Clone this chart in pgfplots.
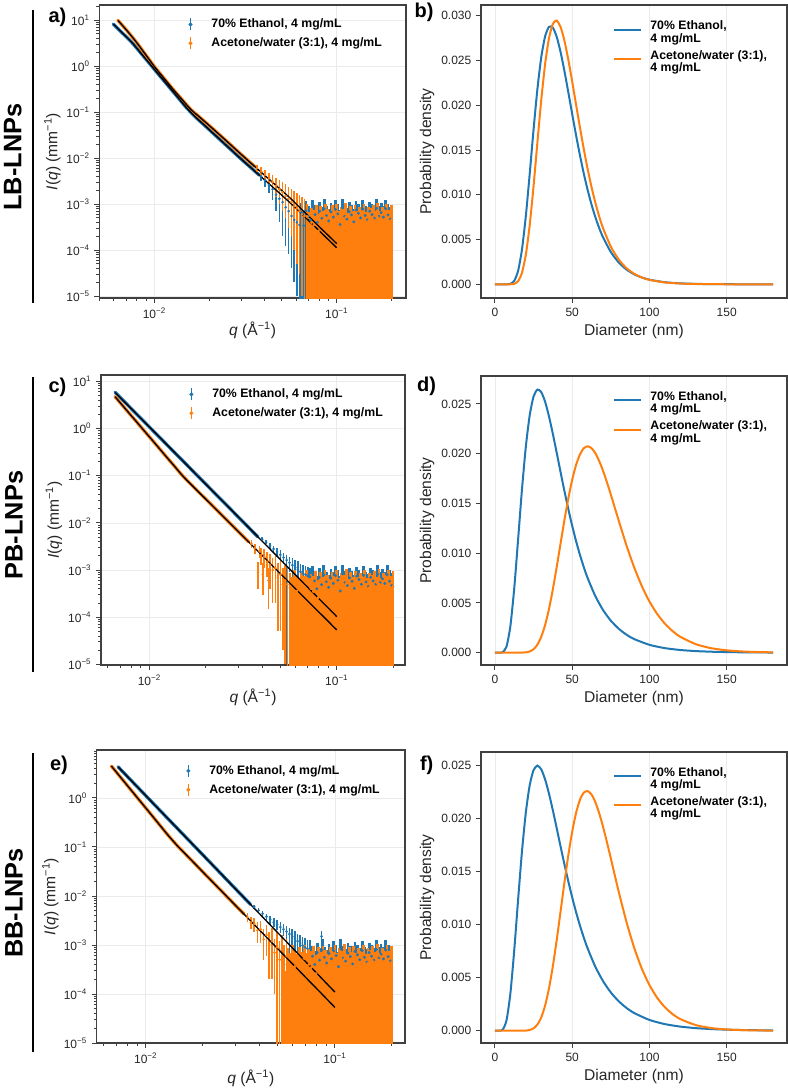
\documentclass[border=0pt]{standalone}
\usepackage{pgfplots}
\pgfplotsset{compat=1.18}
\usepackage{pgfplotstable}
\usepackage{fontspec}
\setmainfont{Liberation Sans}
\definecolor{tabblue}{HTML}{1F77B4}
\definecolor{taborange}{HTML}{FF7F0E}
\newcommand{\tpw}[1]{10\textsuperscript{#1}}

% ---------- SAXS fit/data paths ----------
\pgfplotstableread[row sep=\\]{
q I\\ 0.005957 8.13\\ 0.006683 5.19\\ 0.007499 3.31\\ 0.008414 1.93\\ 0.009441 1.117\\ 0.01059 0.646\\ 0.01189 0.374\\ 0.01334 0.217\\ 0.01496 0.126\\ 0.01679 0.0783\\ 0.01884 0.0515\\ 0.02113 0.0338\\ 0.02371 0.0222\\ 0.02661 0.01459\\ 0.02985 0.00959\\ 0.03350 0.0064\\ 0.03758 0.00426\\ 0.04217 0.00284\\ 0.04732 0.00189\\ 0.05309 0.001256\\ 0.05957 0.000822\\ 0.06683 0.000528\\ 0.07499 0.000339\\ 0.08414 0.000218\\ 0.09441 0.00014\\ 0.1 0.000112\\
}\BAa
\pgfplotstableread[row sep=\\]{
q I\\ 0.00631 9.84\\ 0.007079 5.86\\ 0.007943 3.35\\ 0.008913 1.81\\ 0.01 0.975\\ 0.01122 0.558\\ 0.01259 0.320\\ 0.01413 0.190\\ 0.01585 0.1135\\ 0.01778 0.0764\\ 0.01995 0.0513\\ 0.02239 0.0341\\ 0.02512 0.0226\\ 0.02818 0.0149\\ 0.03162 0.00986\\ 0.03548 0.00656\\ 0.03981 0.00438\\ 0.04467 0.00291\\ 0.05012 0.00194\\ 0.05623 0.00129\\ 0.0631 0.00082\\ 0.07079 0.000527\\ 0.07943 0.000334\\ 0.08913 0.000215\\ 0.1 0.000138\\
}\OAa
\pgfplotstableread[row sep=\\]{
q I\\ 0.006561 5.85\\ 0.006761 5.19\\ 0.007586 3.27\\ 0.008511 2.06\\ 0.00955 1.294\\ 0.01072 0.815\\ 0.01202 0.513\\ 0.01349 0.323\\ 0.01514 0.203\\ 0.01698 0.128\\ 0.01905 0.0805\\ 0.02138 0.0507\\ 0.02399 0.0319\\ 0.02692 0.0201\\ 0.0302 0.01265\\ 0.03388 0.00796\\ 0.03802 0.00501\\ 0.04266 0.00316\\ 0.04786 0.00199\\ 0.0537 0.00125\\ 0.06026 0.000787\\ 0.06761 0.000495\\ 0.07586 0.000312\\ 0.08511 0.000196\\ 0.0955 0.000124\\ 0.1 0.000103\\
}\BAc
\pgfplotstableread[row sep=\\]{
q I\\ 0.006561 4.72\\ 0.006761 4.11\\ 0.007586 2.40\\ 0.008511 1.41\\ 0.00955 0.824\\ 0.01072 0.483\\ 0.01202 0.282\\ 0.01349 0.1655\\ 0.01514 0.0968\\ 0.01698 0.061\\ 0.01905 0.0386\\ 0.02138 0.0245\\ 0.02399 0.01549\\ 0.02692 0.00982\\ 0.0302 0.00621\\ 0.03388 0.00394\\ 0.03802 0.00249\\ 0.04266 0.00158\\ 0.04786 0.000998\\ 0.0537 0.000632\\ 0.06026 0.0004\\ 0.06761 0.000254\\ 0.07586 0.00016\\ 0.08511 0.000102\\ 0.0955 0.0000644\\ 0.1 0.0000537\\
}\OAc
\pgfplotstableread[row sep=\\]{
q I\\ 0.007145 4.32\\ 0.008017 2.72\\ 0.008995 1.714\\ 0.01009 1.080\\ 0.01132 0.681\\ 0.0127 0.429\\ 0.01426 0.270\\ 0.016 0.1704\\ 0.01795 0.1074\\ 0.02014 0.0677\\ 0.0226 0.0427\\ 0.02535 0.0269\\ 0.02844 0.01694\\ 0.03192 0.01068\\ 0.03581 0.00673\\ 0.04018 0.00424\\ 0.04508 0.00267\\ 0.05058 0.001684\\ 0.05675 0.001062\\ 0.06368 0.000669\\ 0.07145 0.000422\\ 0.08017 0.000266\\ 0.08995 0.000167\\ 0.1 0.0001096\\
}\BAe
\pgfplotstableread[row sep=\\]{
q I\\ 0.006592 4.47\\ 0.007396 2.597\\ 0.008299 1.510\\ 0.009311 0.878\\ 0.01045 0.511\\ 0.01172 0.297\\ 0.01315 0.1726\\ 0.01476 0.1042\\ 0.01656 0.0661\\ 0.01858 0.0419\\ 0.02084 0.0265\\ 0.02339 0.01683\\ 0.02624 0.01067\\ 0.02944 0.00676\\ 0.03304 0.00429\\ 0.03707 0.00272\\ 0.04159 0.00172\\ 0.04667 0.00109\\ 0.05236 0.000692\\ 0.05875 0.000439\\ 0.06592 0.000278\\ 0.07396 0.000176\\ 0.08299 0.000112\\ 0.09311 0.0000708\\ 0.1 0.0000533\\
}\OAe

% ---------- transition region data with error bars ----------
\pgfplotstableread[row sep=\\]{
q I ep em\\ 0.0385 0.0040 0.0010 0.0009\\ 0.0405 0.0033 0.0010 0.0009\\ 0.0425 0.0026 0.0010 0.0009\\ 0.0445 0.0021 0.0010 0.0009\\ 0.0465 0.0016 0.0010 0.0009\\ 0.0485 0.0013 0.0010 0.0009\\ 0.0505 0.0011 0.0010 0.0009\\ 0.0525 0.00085 0.00095 0.00073\\ 0.0545 0.0007 0.0009 0.00062\\ 0.0565 0.00055 0.00085 0.00051\\ 0.0585 0.00045 0.00075 0.00043\\ 0.0605 0.0004 0.0007 0.00039\\ 0.0625 0.00035 0.00065 0.000344\\
}\BTa
\pgfplotstableread[row sep=\\]{
q I ep em\\ 0.0365 0.0060 0.0012 0.0010\\ 0.0385 0.0051 0.0012 0.0010\\ 0.0405 0.0043 0.0012 0.0011\\ 0.0425 0.0036 0.0012 0.0011\\ 0.0445 0.0030 0.0012 0.0011\\ 0.0465 0.0025 0.0012 0.0011\\ 0.0485 0.0021 0.0012 0.0011\\ 0.0505 0.0018 0.0012 0.0011\\ 0.0525 0.0015 0.0012 0.0010\\ 0.0545 0.0013 0.0011 0.0010\\ 0.0565 0.0011 0.0010 0.0009\\ 0.0585 0.0009 0.0010 0.0008\\ 0.0605 0.0008 0.0009 0.00075\\ 0.0625 0.0007 0.0009 0.00067\\ 0.0645 0.0006 0.0008 0.00059\\ 0.0665 0.00055 0.00075 0.000545\\
}\OTa
\pgfplotstableread[row sep=\\]{
q I ep em\\ 0.040 0.00449 0.0005 0.0004\\ 0.042 0.0039 0.0005 0.0004\\ 0.044 0.0033 0.0005 0.0005\\ 0.046 0.0028 0.0005 0.0005\\ 0.048 0.00243 0.0005 0.0005\\ 0.050 0.0021 0.0005 0.0005\\ 0.052 0.00184 0.0005 0.0005\\ 0.054 0.00162 0.0005 0.00161\\ 0.056 0.00143 0.0005 0.0005\\ 0.058 0.00127 0.0005 0.00126\\ 0.060 0.00113 0.0005 0.0005\\ 0.062 0.00102 0.0005 0.0004\\ 0.064 0.00092 0.0004 0.0004\\ 0.066 0.00085 0.0004 0.0004\\ 0.068 0.0008 0.0004 0.0004\\ 0.070 0.00075 0.0004 0.0004\\ 0.072 0.00072 0.0004 0.0004\\
}\BTc
\pgfplotstableread[row sep=\\]{
q I ep em\\ 0.0350 0.0036 0.0007 0.0006\\ 0.0365 0.0029 0.0007 0.0007\\ 0.0380 0.0009 0.0006 0.0005\\ 0.0388 0.0025 0.0008 0.0007\\ 0.0395 0.0021 0.0008 0.0008\\ 0.0403 0.0008 0.0006 0.0005\\ 0.0410 0.0019 0.0009 0.0008\\ 0.0425 0.0015 0.0009 0.0008\\ 0.0432 0.0006 0.0005 0.00045\\ 0.0440 0.0013 0.0009 0.0009\\ 0.0455 0.0010 0.0008 0.0008\\ 0.0470 0.0011 0.0009 0.0009\\ 0.0485 0.0007 0.0007 0.00065\\ 0.0500 0.0008 0.0008 0.00075\\ 0.0515 0.0005 0.0006 0.00048\\ 0.0530 0.0006 0.0007 0.00059\\ 0.0545 0.0005 0.0006 0.000497\\
}\OTc
\pgfplotstableread[row sep=\\]{
q I ep em\\ 0.0375 0.0060 0.0005 0.0005\\ 0.0395 0.0051 0.0005 0.0005\\ 0.0415 0.00437 0.0005 0.0005\\ 0.0435 0.0038 0.0005 0.0005\\ 0.0455 0.0033 0.0006 0.0006\\ 0.0475 0.0029 0.0006 0.0006\\ 0.0495 0.0026 0.0006 0.0006\\ 0.0515 0.00232 0.0006 0.0006\\ 0.0535 0.00209 0.0006 0.0006\\ 0.0555 0.00188 0.0006 0.0006\\ 0.0575 0.00167 0.0006 0.00166\\ 0.0595 0.0015 0.0006 0.0006\\ 0.0615 0.00134 0.0006 0.0006\\ 0.0635 0.0012 0.0005 0.0005\\ 0.0655 0.0011 0.0005 0.00109\\ 0.0675 0.00098 0.0005 0.0005\\ 0.0695 0.0009 0.0005 0.0004\\ 0.0715 0.00085 0.0004 0.0004\\ 0.0850 0.0015 0.0004 0.0003\\ 0.0862 0.0010 0.0003 0.0003\\
}\BTe
\pgfplotstableread[row sep=\\]{
q I ep em\\ 0.0345 0.0037 0.0008 0.0007\\ 0.0360 0.0029 0.0008 0.0008\\ 0.0375 0.0027 0.0009 0.0009\\ 0.0390 0.0020 0.0009 0.0009\\ 0.0405 0.0021 0.0010 0.0010\\ 0.0420 0.0013 0.0008 0.0008\\ 0.0435 0.0016 0.0010 0.0010\\ 0.0450 0.0010 0.0008 0.0008\\ 0.0465 0.0012 0.0010 0.0010\\ 0.0480 0.0007 0.0006 0.0006\\ 0.0495 0.0009 0.0009 0.000895\\ 0.0510 0.0005 0.0007 0.000497\\ 0.0525 0.0008 0.0008 0.000797\\ 0.0533 0.00015 0.0002 0.000148\\ 0.0540 0.0004 0.0006 0.000397\\ 0.0548 0.00009 0.0002 0.000088\\ 0.0555 0.0006 0.0007 0.000597\\
}\OTe

% ---------- high-q plateau (noisy) ----------
\pgfplotstableread[row sep=\\]{
q I ep em\\
0.05705 5.8e-4 4.3e-4 5.77e-4\\ 0.05872 3.8e-4 4.0e-4 3.77e-4\\ 0.06043 8.1e-4 3.6e-4 8.07e-4\\ 0.0622 5.0e-4 3.5e-4 4.97e-4\\
0.06402 6.5e-4 3.9e-4 6.47e-4\\ 0.06588 3.4e-4 3.8e-4 3.37e-4\\ 0.0678 7.2e-4 4.2e-4 7.17e-4\\ 0.06979 5.4e-4 3.7e-4 5.37e-4\\
0.07182 4.5e-4 3.6e-4 4.47e-4\\ 0.07392 8.6e-4 3.8e-4 8.57e-4\\ 0.07608 5.9e-4 3.7e-4 5.87e-4\\ 0.0783 4.0e-4 3.5e-4 3.97e-4\\
0.08058 7.0e-4 3.8e-4 6.97e-4\\ 0.08294 4.9e-4 3.7e-4 4.87e-4\\ 0.08536 7.9e-4 4.8e-4 7.87e-4\\ 0.08786 5.6e-4 3.6e-4 5.57e-4\\
0.09042 4.3e-4 3.5e-4 4.27e-4\\ 0.09306 6.7e-4 3.8e-4 6.67e-4\\ 0.09578 5.2e-4 3.8e-4 5.17e-4\\ 0.09857 7.6e-4 4.4e-4 7.57e-4\\
0.10145 6.1e-4 3.8e-4 6.07e-4\\ 0.10441 3.6e-4 3.7e-4 3.57e-4\\ 0.10747 8.3e-4 4.7e-4 8.27e-4\\ 0.1106 5.4e-4 4.0e-4 5.37e-4\\
0.11383 4.7e-4 3.6e-4 4.67e-4\\ 0.11715 6.8e-4 4.1e-4 6.77e-4\\ 0.12057 5.8e-4 3.7e-4 5.77e-4\\ 0.12409 4.1e-4 3.8e-4 4.07e-4\\
0.12772 7.4e-4 4.3e-4 7.37e-4\\ 0.13145 6.3e-4 3.8e-4 6.27e-4\\ 0.13528 5.0e-4 3.8e-4 4.97e-4\\ 0.13924 7.7e-4 4.5e-4 7.67e-4\\
0.1433 5.6e-4 3.5e-4 5.57e-4\\ 0.14749 4.5e-4 3.7e-4 4.47e-4\\ 0.15179 7.0e-4 4.2e-4 6.97e-4\\ 0.15622 5.9e-4 3.9e-4 5.87e-4\\
0.16079 4.9e-4 3.8e-4 4.87e-4\\ 0.16548 8.1e-4 4.5e-4 8.07e-4\\ 0.17031 5.4e-4 3.8e-4 5.37e-4\\ 0.17529 6.5e-4 4.2e-4 6.47e-4\\
0.1804 5.2e-4 3.9e-4 5.17e-4\\ 0.18567 7.9e-4 4.6e-4 7.87e-4\\ 0.19109 5.8e-4 4.2e-4 5.77e-4\\ 0.19668 4.7e-4 3.9e-4 4.67e-4\\
}\BP
\pgfplotstableread[row sep=\\]{
q I ep em\\
0.05623 4.2e-4 4.3e-4 4.17e-4\\ 0.05788 3.1e-4 3.9e-4 3.07e-4\\ 0.05957 5.0e-4 4.8e-4 4.97e-4\\ 0.06131 3.6e-4 4.0e-4 3.57e-4\\
0.0631 2.7e-4 3.7e-4 2.67e-4\\ 0.06494 4.6e-4 4.6e-4 4.57e-4\\ 0.06683 3.3e-4 4.0e-4 3.27e-4\\ 0.06879 5.3e-4 4.9e-4 5.27e-4\\
0.07079 2.9e-4 3.9e-4 2.87e-4\\ 0.07286 4.0e-4 4.4e-4 3.97e-4\\ 0.07499 3.5e-4 4.0e-4 3.47e-4\\ 0.07718 4.8e-4 4.8e-4 4.77e-4\\
0.07943 2.6e-4 3.6e-4 2.57e-4\\ 0.08175 4.3e-4 4.6e-4 4.27e-4\\ 0.08414 3.2e-4 3.9e-4 3.17e-4\\ 0.0866 5.1e-4 4.9e-4 5.07e-4\\
0.08913 3.7e-4 4.1e-4 3.67e-4\\ 0.09173 2.8e-4 3.8e-4 2.77e-4\\ 0.09441 4.5e-4 4.8e-4 4.47e-4\\ 0.09716 3.4e-4 4.0e-4 3.37e-4\\
0.1 4.9e-4 5.0e-4 4.87e-4\\ 0.10292 3.0e-4 3.9e-4 2.97e-4\\ 0.10593 4.1e-4 4.5e-4 4.07e-4\\ 0.10902 3.6e-4 4.1e-4 3.57e-4\\
0.1122 5.2e-4 5.2e-4 5.17e-4\\ 0.11548 2.7e-4 3.8e-4 2.67e-4\\ 0.11885 4.4e-4 4.6e-4 4.37e-4\\ 0.12232 3.3e-4 3.9e-4 3.27e-4\\
0.12589 4.7e-4 4.8e-4 4.67e-4\\ 0.12957 3.1e-4 3.9e-4 3.07e-4\\ 0.13335 4.0e-4 4.5e-4 3.97e-4\\ 0.13725 3.5e-4 4.1e-4 3.47e-4\\
0.14125 5.0e-4 5.1e-4 4.97e-4\\ 0.14538 2.9e-4 3.8e-4 2.87e-4\\ 0.14962 4.3e-4 4.5e-4 4.27e-4\\ 0.15399 3.8e-4 4.2e-4 3.77e-4\\
0.15849 4.6e-4 4.8e-4 4.57e-4\\ 0.16312 3.2e-4 3.9e-4 3.17e-4\\ 0.16788 5.1e-4 5.2e-4 5.07e-4\\ 0.17278 3.0e-4 3.9e-4 2.97e-4\\
0.17783 4.2e-4 4.5e-4 4.17e-4\\ 0.18302 3.6e-4 4.3e-4 3.57e-4\\ 0.18836 4.8e-4 5.0e-4 4.77e-4\\ 0.19387 3.4e-4 4.1e-4 3.37e-4\\
0.19953 4.5e-4 5.1e-4 4.47e-4\\
}\OP

% ---------- size distributions ----------
\pgfplotstableread[row sep=\\]{
x y\\ 0 0\\ 5 0\\ 7.5 0.000002\\ 10 0.0000514\\ 12.5 0.000385\\ 15 0.0015\\ 17.5 0.003873\\ 20 0.007608\\ 22.5 0.0123\\ 25 0.01727\\ 27.5 0.02181\\ 30 0.02538\\ 32.5 0.02771\\ 35 0.02876\\ 37.5 0.02867\\ 40 0.02764\\ 42.5 0.02594\\ 45 0.02381\\ 47.5 0.02145\\ 50 0.01903\\ 52.5 0.01666\\ 55 0.01443\\ 57.5 0.01238\\ 60 0.01054\\ 62.5 0.00892\\ 65 0.0075\\ 67.5 0.00628\\ 70 0.00524\\ 75 0.00361\\ 80 0.002464\\ 85 0.001671\\ 90 0.00113\\ 95 0.000763\\ 100 0.000515\\ 110 0.000234\\ 120 0.000108\\ 130 0.00005\\ 140 0.00002\\ 150 0.00001\\ 165 0.000002\\ 180 0\\
}\Db
\pgfplotstableread[row sep=\\]{
x y\\ 0 0\\ 10 0.000004\\ 12.5 0.000056\\ 15 0.000349\\ 17.5 0.00128\\ 20 0.00329\\ 22.5 0.006585\\ 25 0.01095\\ 27.5 0.01585\\ 30 0.0206\\ 32.5 0.02462\\ 35 0.0275\\ 37.5 0.0291\\ 40 0.02946\\ 42.5 0.02874\\ 45 0.0272\\ 47.5 0.02509\\ 50 0.02266\\ 52.5 0.02009\\ 55 0.01755\\ 57.5 0.01512\\ 60 0.01289\\ 62.5 0.01088\\ 65 0.00911\\ 67.5 0.00757\\ 70 0.00626\\ 75 0.00421\\ 80 0.00279\\ 85 0.001828\\ 90 0.001189\\ 95 0.000769\\ 100 0.000496\\ 110 0.000206\\ 120 0.0000853\\ 130 0.0000357\\ 140 0.000015\\ 150 0.000006\\ 180 0\\
}\Ob
\pgfplotstableread[row sep=\\]{
x y\\ 0 0\\ 2.5 0\\ 5 0.000042\\ 7.5 0.00061\\ 10 0.002652\\ 12.5 0.00645\\ 15 0.01136\\ 17.5 0.01638\\ 20 0.02069\\ 22.5 0.02384\\ 25 0.02573\\ 27.5 0.02644\\ 30 0.02618\\ 32.5 0.02521\\ 35 0.02374\\ 37.5 0.02198\\ 40 0.02007\\ 42.5 0.01813\\ 45 0.01623\\ 47.5 0.01443\\ 50 0.01275\\ 52.5 0.01122\\ 55 0.00984\\ 57.5 0.0086\\ 60 0.0075\\ 65 0.005675\\ 70 0.004277\\ 75 0.003217\\ 80 0.00242\\ 85 0.00182\\ 90 0.001373\\ 100 0.000786\\ 110 0.000455\\ 120 0.000267\\ 130 0.000159\\ 140 0.0000958\\ 150 0.0000586\\ 160 0.0000362\\ 170 0.0000227\\ 180 0.0000144\\
}\Dd
\pgfplotstableread[row sep=\\]{
x y\\ 0 0\\ 15 0\\ 20 0.000033\\ 22.5 0.000122\\ 25 0.000346\\ 27.5 0.000805\\ 30 0.001595\\ 32.5 0.002787\\ 35 0.004395\\ 37.5 0.006376\\ 40 0.008624\\ 42.5 0.01099\\ 45 0.01333\\ 47.5 0.0155\\ 50 0.01737\\ 52.5 0.01886\\ 55 0.01991\\ 57.5 0.02054\\ 60 0.02074\\ 62.5 0.02055\\ 65 0.02004\\ 67.5 0.01925\\ 70 0.01826\\ 72.5 0.01712\\ 75 0.01589\\ 77.5 0.01461\\ 80 0.01333\\ 85 0.01084\\ 90 0.00862\\ 95 0.00671\\ 100 0.00514\\ 105 0.00389\\ 110 0.002913\\ 115 0.002163\\ 120 0.001593\\ 130 0.000851\\ 140 0.000448\\ 150 0.000234\\ 160 0.000122\\ 170 0.0000633\\ 180 0.000033\\
}\Od
\pgfplotstableread[row sep=\\]{
x y\\ 0 0\\ 2.5 0\\ 5 0.0000936\\ 7.5 0.000973\\ 10 0.003493\\ 12.5 0.00756\\ 15 0.01233\\ 17.5 0.01687\\ 20 0.02055\\ 22.5 0.02312\\ 25 0.02455\\ 27.5 0.02498\\ 30 0.02462\\ 32.5 0.02367\\ 35 0.02234\\ 37.5 0.02076\\ 40 0.01907\\ 42.5 0.01735\\ 45 0.01567\\ 47.5 0.01407\\ 50 0.01257\\ 52.5 0.01118\\ 55 0.00992\\ 57.5 0.00878\\ 60 0.007754\\ 65 0.006022\\ 70 0.004665\\ 75 0.003607\\ 80 0.00279\\ 85 0.00216\\ 90 0.001675\\ 100 0.001014\\ 110 0.000621\\ 120 0.000385\\ 130 0.000242\\ 140 0.000154\\ 150 0.0000988\\ 160 0.0000643\\ 170 0.0000424\\ 180 0.0000282\\
}\Df
\pgfplotstableread[row sep=\\]{
x y\\ 0 0\\ 17.5 0\\ 20 0.000015\\ 22.5 0.000067\\ 25 0.000221\\ 27.5 0.000578\\ 30 0.00126\\ 32.5 0.002378\\ 35 0.003991\\ 37.5 0.006085\\ 40 0.00856\\ 42.5 0.01125\\ 45 0.01398\\ 47.5 0.01653\\ 50 0.01875\\ 52.5 0.02051\\ 55 0.02175\\ 57.5 0.02243\\ 60 0.02258\\ 62.5 0.02226\\ 65 0.02153\\ 67.5 0.02048\\ 70 0.0192\\ 72.5 0.01776\\ 75 0.01624\\ 77.5 0.01469\\ 80 0.01317\\ 85 0.01032\\ 90 0.00787\\ 95 0.00587\\ 100 0.0043\\ 105 0.0031\\ 110 0.00221\\ 115 0.00156\\ 120 0.001092\\ 130 0.000526\\ 140 0.000249\\ 150 0.000117\\ 160 0.0000547\\ 170 0.0000255\\ 180 0.0000118\\
}\Of

\pgfplotsset{
  every axis/.append style={
    scale only axis,
    axis line style={black!75, line width=0.9pt},
    tick align=outside, xtick pos=lower, ytick pos=left,
    major tick length=3.75pt, minor tick length=2.2pt,
    tick style={black!75, line width=0.7pt},
    tick label style={font=\fontsize{9}{10}\selectfont, text=black!85},
    label style={font=\fontsize{11.7}{13}\selectfont, text=black!85},
    legend cell align=left,
    scaled y ticks=false, scaled x ticks=false,
  },
  databand/.style={line width=2.5pt, line cap=round, smooth, forget plot},
  fitline/.style={black, line width=1pt, smooth, forget plot},
  ebar/.style={only marks, mark=*, mark size=0.8pt, forget plot,
    error bars/y dir=both, error bars/y explicit, error bars/error mark=none,
    error bars/error bar style={line width=1.2pt}},
  pbar/.style={only marks, mark=*, mark size=0.9pt, forget plot,
    error bars/y dir=both, error bars/y explicit, error bars/error mark=none,
    error bars/error bar style={line width=2.1pt}},
  psdline/.style={line width=1.5pt, smooth, tension=0.4, forget plot},
}
\newcommand{\twol}[2]{\def\arraystretch{0.92}\begin{tabular}{@{}l@{}}#1\\#2\end{tabular}}

\begin{document}
\begin{tikzpicture}
\useasboundingbox (0,0) rectangle (591pt,-817.5pt);

% ================= a =================
\begin{axis}[xmode=log, ymode=log, at={(74.5pt,-223.5pt)}, anchor=south west, width=230pt, height=219.75pt,
  xmin=0.00499, xmax=0.24, ymin=9.06e-6, ymax=21.2,
  xtick={0.01,0.1}, xticklabels={\tpw{−2},\tpw{−1}},
  minor xtick={0.005,0.006,0.007,0.008,0.009,0.02,0.03,0.04,0.05,0.06,0.07,0.08,0.09,0.2},
  ytick={1e-5,1e-4,1e-3,1e-2,1e-1,1,10},
  yticklabels={\tpw{−5},\tpw{−4},\tpw{−3},\tpw{−2},\tpw{−1},\tpw{0},\tpw{1}},
  minor ytick={2e-5,3e-5,4e-5,5e-5,6e-5,7e-5,8e-5,9e-5,2e-4,3e-4,4e-4,5e-4,6e-4,7e-4,8e-4,9e-4,2e-3,3e-3,4e-3,5e-3,6e-3,7e-3,8e-3,9e-3,0.02,0.03,0.04,0.05,0.06,0.07,0.08,0.09,0.2,0.3,0.4,0.5,0.6,0.7,0.8,0.9,2,3,4,5,6,7,8,9,20},
  grid=major, major grid style={black!8, line width=0.5pt},
  xlabel={\textit{q} (Å\textsuperscript{−1})},
  ylabel={\textit{I}(\textit{q}) (mm\textsuperscript{−1})},
  xlabel style={at={(axis description cs:0.5,-0.11)}, anchor=center},
  ylabel style={at={(axis description cs:-0.153,0.5)}, anchor=center},
  legend style={draw=none, fill=none, inner sep=0pt, at={(0.29,0.96)}, anchor=north west,
    font=\bfseries\fontsize{9.2}{10}\selectfont, row sep=3pt, nodes={inner sep=1.5pt}}]
\addplot[skip coords between index={17}{40}, tabblue, databand] table[x=q,y=I] {\BAa};
\addplot[tabblue, ebar] table[x=q,y=I,y error plus=ep,y error minus=em] {\BTa};
\addplot[skip coords between index={0}{4}, tabblue, pbar] table[x=q,y=I,y error plus=ep,y error minus=em] {\BP};
\addplot[skip coords between index={16}{40}, taborange, databand] table[x=q,y=I] {\OAa};
\addplot[taborange, ebar] table[x=q,y=I,y error plus=ep,y error minus=em] {\OTa};
\addplot[skip coords between index={0}{7}, taborange, pbar] table[x=q,y=I,y error plus=ep,y error minus=em] {\OP};
\addplot[fitline] table[x=q,y=I] {\BAa};
\addplot[fitline] table[x=q,y=I] {\OAa};
\addlegendimage{legend image code/.code={\draw[tabblue, line width=0.9pt] (0pt,-4.5pt) -- (0pt,4.5pt); \fill[tabblue] (0pt,0pt) circle (1.3pt); \path (14pt,0pt);}}
\addlegendentry{70\% Ethanol, 4 mg/mL}
\addlegendimage{legend image code/.code={\draw[taborange, line width=0.9pt] (0pt,-4.5pt) -- (0pt,4.5pt); \fill[taborange] (0pt,0pt) circle (1.3pt); \path (14pt,0pt);}}
\addlegendentry{Acetone/water (3:1), 4 mg/mL}
\end{axis}

% ================= b =================
\begin{axis}[at={(360.75pt,-223.5pt)}, anchor=south west, width=229.5pt, height=219.75pt,
  xmin=-9, xmax=189, ymin=-0.00153, ymax=0.0312,
  xtick={0,50,100,150}, xticklabels={0,50,100,150},
  ytick={0,0.005,0.01,0.015,0.02,0.025,0.03}, yticklabels={0.000,0.005,0.010,0.015,0.020,0.025,0.030},
  xmajorgrids, major grid style={black!8, line width=0.5pt},
  xlabel={Diameter (nm)}, ylabel={Probability density},
  xlabel style={at={(axis description cs:0.5,-0.115)}, anchor=center},
  ylabel style={at={(axis description cs:-0.176,0.5)}, anchor=center},
  legend style={draw=none, fill=none, inner sep=0pt, at={(0.431,0.953)}, anchor=north west,
    font=\bfseries\fontsize{9.2}{9}\selectfont, row sep=6pt, nodes={inner sep=1.5pt}}]
\addplot[tabblue, psdline] table[x=x,y=y] {\Db};
\addplot[taborange, psdline] table[x=x,y=y] {\Ob};
\addlegendimage{legend image code/.code={\draw[tabblue, line width=1.5pt] (0pt,0pt) -- (20pt,0pt); \path (25.5pt,0pt);}}
\addlegendentry{\twol{70\% Ethanol,}{4 mg/mL}}
\addlegendimage{legend image code/.code={\draw[taborange, line width=1.5pt] (0pt,0pt) -- (20pt,0pt); \path (25.5pt,0pt);}}
\addlegendentry{\twol{Acetone/water (3:1),}{4 mg/mL}}
\end{axis}

% ================= c =================
\begin{axis}[xmode=log, ymode=log, at={(75.75pt,-498.75pt)}, anchor=south west, width=228pt, height=217.5pt,
  xmin=0.00552, xmax=0.2312, ymin=9.7e-6, ymax=13.6,
  xtick={0.01,0.1}, xticklabels={\tpw{−2},\tpw{−1}},
  minor xtick={0.006,0.007,0.008,0.009,0.02,0.03,0.04,0.05,0.06,0.07,0.08,0.09,0.2},
  ytick={1e-5,1e-4,1e-3,1e-2,1e-1,1,10},
  yticklabels={\tpw{−5},\tpw{−4},\tpw{−3},\tpw{−2},\tpw{−1},\tpw{0},\tpw{1}},
  minor ytick={2e-5,3e-5,4e-5,5e-5,6e-5,7e-5,8e-5,9e-5,2e-4,3e-4,4e-4,5e-4,6e-4,7e-4,8e-4,9e-4,2e-3,3e-3,4e-3,5e-3,6e-3,7e-3,8e-3,9e-3,0.02,0.03,0.04,0.05,0.06,0.07,0.08,0.09,0.2,0.3,0.4,0.5,0.6,0.7,0.8,0.9,2,3,4,5,6,7,8,9},
  grid=major, major grid style={black!8, line width=0.5pt},
  xlabel={\textit{q} (Å\textsuperscript{−1})},
  ylabel={\textit{I}(\textit{q}) (mm\textsuperscript{−1})},
  xlabel style={at={(axis description cs:0.5,-0.11)}, anchor=center},
  ylabel style={at={(axis description cs:-0.155,0.5)}, anchor=center},
  legend style={draw=none, fill=none, inner sep=0pt, at={(0.29,0.96)}, anchor=north west,
    font=\bfseries\fontsize{9.2}{10}\selectfont, row sep=3pt, nodes={inner sep=1.5pt}}]
\addplot[skip coords between index={17}{40}, tabblue, databand] table[x=q,y=I] {\BAc};
\addplot[tabblue, ebar] table[x=q,y=I,y error plus=ep,y error minus=em] {\BTc};
\addplot[skip coords between index={0}{9}, tabblue, pbar] table[x=q,y=I,y error plus=ep,y error minus=em] {\BP};
\addplot[skip coords between index={16}{40}, taborange, databand] table[x=q,y=I] {\OAc};
\addplot[taborange, ebar] table[x=q,y=I,y error plus=ep,y error minus=em] {\OTc};
\addplot[taborange, pbar] table[x=q,y=I,y error plus=ep,y error minus=em] {\OP};
\addplot[fitline] table[x=q,y=I] {\BAc};
\addplot[fitline] table[x=q,y=I] {\OAc};
\addlegendimage{legend image code/.code={\draw[tabblue, line width=0.9pt] (0pt,-4.5pt) -- (0pt,4.5pt); \fill[tabblue] (0pt,0pt) circle (1.3pt); \path (14pt,0pt);}}
\addlegendentry{70\% Ethanol, 4 mg/mL}
\addlegendimage{legend image code/.code={\draw[taborange, line width=0.9pt] (0pt,-4.5pt) -- (0pt,4.5pt); \fill[taborange] (0pt,0pt) circle (1.3pt); \path (14pt,0pt);}}
\addlegendentry{Acetone/water (3:1), 4 mg/mL}
\end{axis}

% ================= d =================
\begin{axis}[at={(360.75pt,-498.75pt)}, anchor=south west, width=229.5pt, height=216.75pt,
  xmin=-9, xmax=189, ymin=-0.00124, ymax=0.0278,
  xtick={0,50,100,150}, xticklabels={0,50,100,150},
  ytick={0,0.005,0.01,0.015,0.02,0.025}, yticklabels={0.000,0.005,0.010,0.015,0.020,0.025},
  xmajorgrids, major grid style={black!8, line width=0.5pt},
  xlabel={Diameter (nm)}, ylabel={Probability density},
  xlabel style={at={(axis description cs:0.5,-0.115)}, anchor=center},
  ylabel style={at={(axis description cs:-0.176,0.5)}, anchor=center},
  legend style={draw=none, fill=none, inner sep=0pt, at={(0.431,0.953)}, anchor=north west,
    font=\bfseries\fontsize{9.2}{9}\selectfont, row sep=6pt, nodes={inner sep=1.5pt}}]
\addplot[tabblue, psdline] table[x=x,y=y] {\Dd};
\addplot[taborange, psdline] table[x=x,y=y] {\Od};
\addlegendimage{legend image code/.code={\draw[tabblue, line width=1.5pt] (0pt,0pt) -- (20pt,0pt); \path (25.5pt,0pt);}}
\addlegendentry{\twol{70\% Ethanol,}{4 mg/mL}}
\addlegendimage{legend image code/.code={\draw[taborange, line width=1.5pt] (0pt,0pt) -- (20pt,0pt); \path (25.5pt,0pt);}}
\addlegendentry{\twol{Acetone/water (3:1),}{4 mg/mL}}
\end{axis}

% ================= e =================
\begin{axis}[xmode=log, ymode=log, at={(72.5pt,-782.25pt)}, anchor=south west, width=231.2pt, height=219.75pt,
  xmin=0.00551, xmax=0.2344, ymin=1e-5, ymax=9.5,
  xtick={0.01,0.1}, xticklabels={\tpw{−2},\tpw{−1}},
  minor xtick={0.006,0.007,0.008,0.009,0.02,0.03,0.04,0.05,0.06,0.07,0.08,0.09,0.2},
  ytick={1e-5,1e-4,1e-3,1e-2,1e-1,1},
  yticklabels={\tpw{−5},\tpw{−4},\tpw{−3},\tpw{−2},\tpw{−1},\tpw{0}},
  minor ytick={2e-5,3e-5,4e-5,5e-5,6e-5,7e-5,8e-5,9e-5,2e-4,3e-4,4e-4,5e-4,6e-4,7e-4,8e-4,9e-4,2e-3,3e-3,4e-3,5e-3,6e-3,7e-3,8e-3,9e-3,0.02,0.03,0.04,0.05,0.06,0.07,0.08,0.09,0.2,0.3,0.4,0.5,0.6,0.7,0.8,0.9,2,3,4,5,6,7,8,9},
  grid=major, major grid style={black!8, line width=0.5pt},
  xlabel={\textit{q} (Å\textsuperscript{−1})},
  ylabel={\textit{I}(\textit{q}) (mm\textsuperscript{−1})},
  xlabel style={at={(axis description cs:0.5,-0.12)}, anchor=center},
  ylabel style={at={(axis description cs:-0.15,0.5)}, anchor=center},
  legend style={draw=none, fill=none, inner sep=0pt, at={(0.29,0.955)}, anchor=north west,
    font=\bfseries\fontsize{9.2}{10}\selectfont, row sep=3pt, nodes={inner sep=1.5pt}}]
\addplot[skip coords between index={15}{40}, tabblue, databand] table[x=q,y=I] {\BAe};
\addplot[tabblue, ebar] table[x=q,y=I,y error plus=ep,y error minus=em] {\BTe};
\addplot[skip coords between index={0}{9}, tabblue, pbar] table[x=q,y=I,y error plus=ep,y error minus=em] {\BP};
\addplot[skip coords between index={15}{40}, taborange, databand] table[x=q,y=I] {\OAe};
\addplot[taborange, ebar] table[x=q,y=I,y error plus=ep,y error minus=em] {\OTe};
\addplot[taborange, pbar] table[x=q,y=I,y error plus=ep,y error minus=em] {\OP};
\addplot[fitline] table[x=q,y=I] {\BAe};
\addplot[fitline] table[x=q,y=I] {\OAe};
\addlegendimage{legend image code/.code={\draw[tabblue, line width=0.9pt] (0pt,-4.5pt) -- (0pt,4.5pt); \fill[tabblue] (0pt,0pt) circle (1.3pt); \path (14pt,0pt);}}
\addlegendentry{70\% Ethanol, 4 mg/mL}
\addlegendimage{legend image code/.code={\draw[taborange, line width=0.9pt] (0pt,-4.5pt) -- (0pt,4.5pt); \fill[taborange] (0pt,0pt) circle (1.3pt); \path (14pt,0pt);}}
\addlegendentry{Acetone/water (3:1), 4 mg/mL}
\end{axis}

% ================= f =================
\begin{axis}[at={(360.75pt,-782.25pt)}, anchor=south west, width=229.5pt, height=218.25pt,
  xmin=-9, xmax=189, ymin=-0.00116, ymax=0.02626,
  xtick={0,50,100,150}, xticklabels={0,50,100,150},
  ytick={0,0.005,0.01,0.015,0.02,0.025}, yticklabels={0.000,0.005,0.010,0.015,0.020,0.025},
  xmajorgrids, major grid style={black!8, line width=0.5pt},
  xlabel={Diameter (nm)}, ylabel={Probability density},
  xlabel style={at={(axis description cs:0.5,-0.115)}, anchor=center},
  ylabel style={at={(axis description cs:-0.176,0.5)}, anchor=center},
  legend style={draw=none, fill=none, inner sep=0pt, at={(0.431,0.955)}, anchor=north west,
    font=\bfseries\fontsize{9.2}{9}\selectfont, row sep=6pt, nodes={inner sep=1.5pt}}]
\addplot[tabblue, psdline] table[x=x,y=y] {\Df};
\addplot[taborange, psdline] table[x=x,y=y] {\Of};
\addlegendimage{legend image code/.code={\draw[tabblue, line width=1.5pt] (0pt,0pt) -- (20pt,0pt); \path (25.5pt,0pt);}}
\addlegendentry{\twol{70\% Ethanol,}{4 mg/mL}}
\addlegendimage{legend image code/.code={\draw[taborange, line width=1.5pt] (0pt,0pt) -- (20pt,0pt); \path (25.5pt,0pt);}}
\addlegendentry{\twol{Acetone/water (3:1),}{4 mg/mL}}
\end{axis}

% ---------- panel letters ----------
\begin{scope}[every node/.style={font=\bfseries\fontsize{15}{15}\selectfont}]
\node at (43.1pt,-12.75pt) {a)};
\node at (318pt,-9.4pt) {b)};
\node at (43.1pt,-290.6pt) {c)};
\node at (320pt,-290pt) {d)};
\node at (44.25pt,-573.75pt) {e)};
\node at (320pt,-573.75pt) {f)};
\end{scope}
% ---------- row labels ----------
\begin{scope}[every node/.style={rotate=90, font=\bfseries\fontsize{19}{19}\selectfont}]
\node at (9.6pt,-117.75pt) {LB-LNPs};
\node at (10.5pt,-393.75pt) {PB-LNPs};
\node at (10.5pt,-677.25pt) {BB-LNPs};
\end{scope}
\draw[line width=2pt] (24.75pt,-7.5pt) -- (24.75pt,-227.25pt);
\draw[line width=2pt] (24.75pt,-282.75pt) -- (24.75pt,-504pt);
\draw[line width=2pt] (24.75pt,-564.75pt) -- (24.75pt,-789pt);
\end{tikzpicture}
\end{document}
